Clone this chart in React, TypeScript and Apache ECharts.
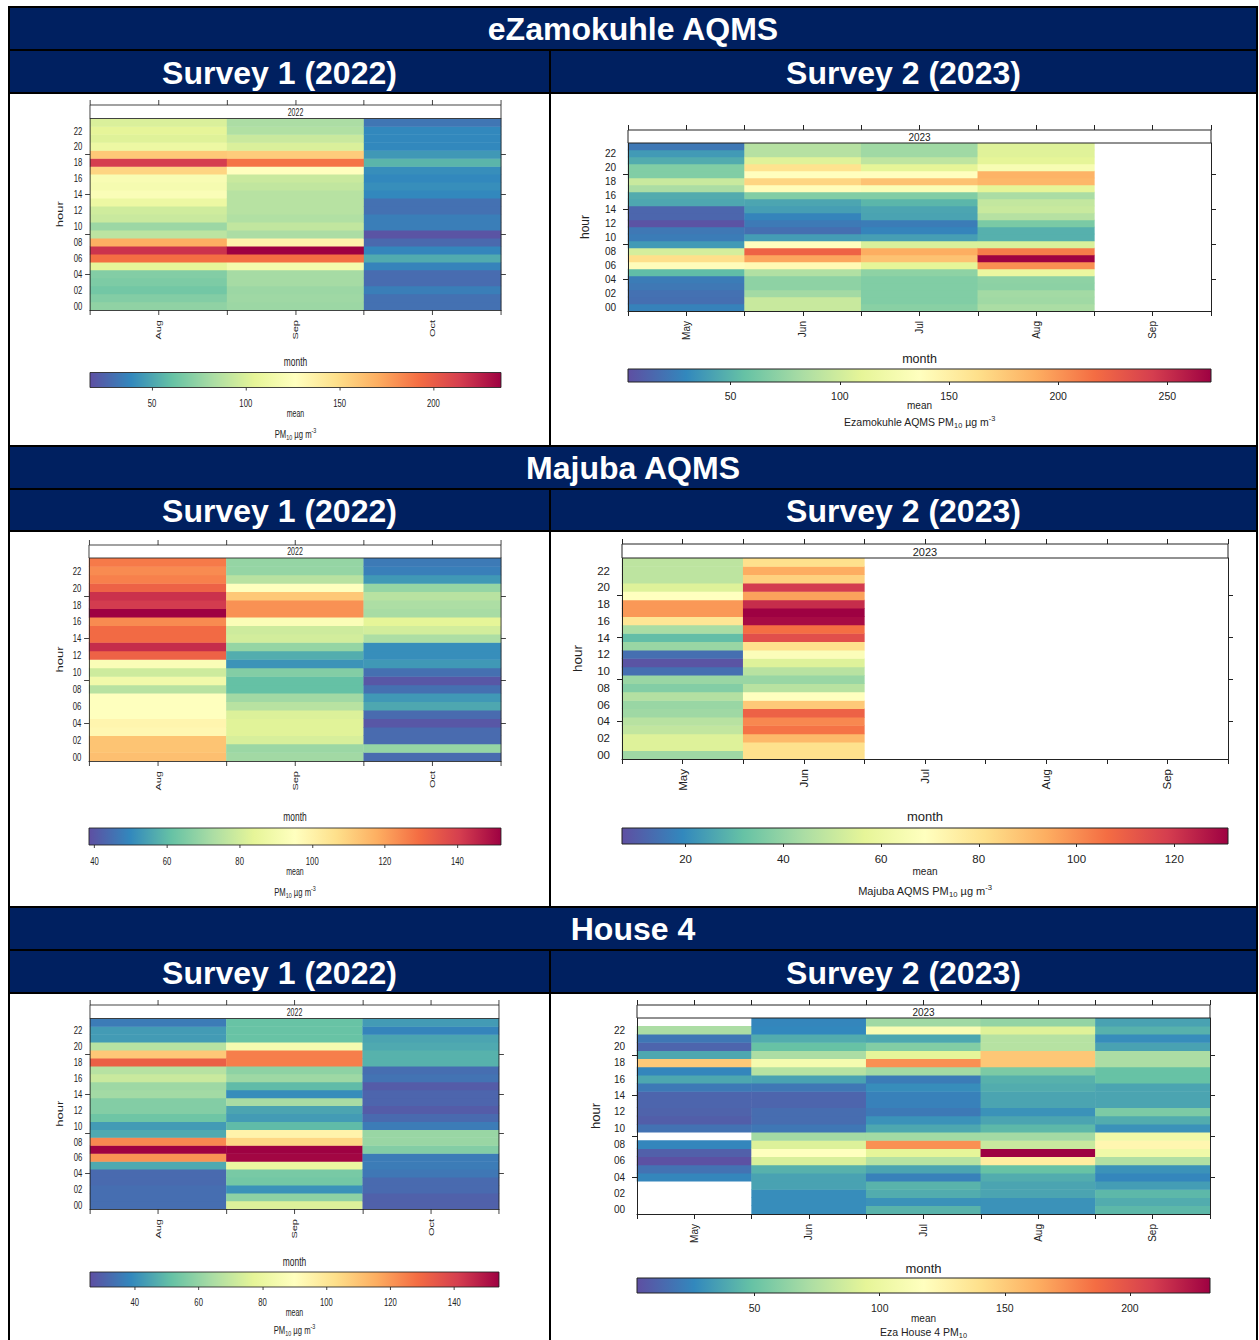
import React, { useEffect, useRef } from "react";
import * as echarts from "echarts";

// Colour ramp (reversed Spectral, low -> high)
const SPECTRAL = ["#5E4FA2", "#3288BD", "#66C2A5", "#ABDDA4", "#E6F598", "#FFFFBF", "#FEE08B", "#FDAE61", "#F46D43", "#D53E4F", "#9E0142"];

const HOURS = ["00", "01", "02", "03", "04", "05", "06", "07", "08", "09", "10", "11", "12", "13", "14", "15", "16", "17", "18", "19", "20", "21", "22", "23"];
const HOUR_TICKS = [4, 9, 14, 19];

// ---- eZamokuhle AQMS, survey 1 (2022): mean PM10 by hour (00..23) ----
const EZ1_MONTHS = ["Aug", "Sep", "Oct"];
const EZ1_AUG = [74, 70, 65, 68, 70, 105, 192, 218, 170, 89, 78, 94, 96, 111, 122, 118, 120, 153, 214, 159, 111, 102, 105, 100];
const EZ1_SEP = [78, 79, 78, 81, 81, 116, 192, 236, 135, 83, 91, 85, 87, 87, 87, 91, 94, 127, 190, 157, 100, 94, 85, 83];
const EZ1_OCT = [30, 30, 35, 28, 28, 37, 52, 38, 27, 19, 35, 35, 30, 30, 39, 41, 39, 41, 56, 45, 39, 39, 39, 32];
const EZ1_RANGE = [17, 236];
const EZ1_TICKS = [50, 100, 150, 200];

// ---- eZamokuhle AQMS, survey 2 (2023) ----
const EZ2_MONTHS = ["May", "Jun", "Jul", "Aug", "Sep"];
const EZ2_MAY = [27, 18, 19, 22, 24, 54, 139, 163, 102, 38, 24, 22, 5, 14, 14, 44, 46, 83, 96, 67, 67, 46, 38, 22];
const EZ2_JUN = [96, 96, 80, 72, 72, 86, 142, 193, 222, 137, 39, 18, 23, 28, 40, 43, 67, 139, 169, 137, 161, 107, 88, 88];
const EZ2_JUL = [70, 67, 67, 67, 67, 72, 110, 179, 190, 104, 40, 28, 24, 42, 43, 51, 67, 131, 179, 137, 110, 92, 79, 79];
const EZ2_AUG = [83, 79, 80, 71, 72, 115, 203, 270, 211, 104, 48, 48, 64, 88, 96, 94, 83, 110, 185, 187, 128, 110, 107, 106];
const EZ2_SEP: (number | null)[] = [];
const EZ2_RANGE = [3, 270];
const EZ2_TICKS = [50, 100, 150, 200, 250];

// ---- Majuba AQMS, survey 1 (2022) ----
const MJ1_MONTHS = ["Aug", "Sep", "Oct"];
const MJ1_AUG = [114, 113, 113, 98, 99, 95, 95, 95, 75, 89, 79, 93, 132, 144, 130, 130, 124, 152, 141, 143, 132, 126, 124, 127];
const MJ1_SEP = [71, 70, 81, 83, 83, 82, 75, 71, 61, 61, 66, 52, 57, 69, 80, 79, 93, 123, 123, 112, 95, 75, 69, 69];
const MJ1_OCT = [44, 69, 44, 44, 40, 44, 56, 53, 45, 40, 45, 53, 51, 51, 73, 80, 84, 72, 73, 75, 69, 53, 48, 47];
const MJ1_RANGE = [38.5, 152];
const MJ1_TICKS = [40, 60, 80, 100, 120, 140];

// ---- Majuba AQMS, survey 2 (2023) ----
const MJ2_MONTHS = ["May", "Jun", "Jul", "Aug", "Sep"];
const MJ2_MAY = [42, 55, 55, 49, 47, 42, 41, 46, 37, 41, 14, 8, 14, 41, 31, 44, 79, 98, 98, 69, 55, 48, 48, 48];
const MJ2_JUN = [81, 81, 91, 105, 101, 109, 87, 69, 47, 41, 47, 55, 67, 81, 114, 106, 129, 131, 122, 96, 119, 85, 94, 81];
const MJ2_JUL: (number | null)[] = [];
const MJ2_AUG: (number | null)[] = [];
const MJ2_SEP: (number | null)[] = [];
const MJ2_RANGE = [7, 131];
const MJ2_TICKS = [20, 40, 60, 80, 100, 120];

// ---- House 4, survey 1 (2022) ----
const H41_MONTHS = ["Aug", "Sep", "Oct"];
const H41_AUG = [33, 33, 33, 32, 32, 46, 121, 154, 123, 46, 43, 53, 57, 57, 63, 62, 71, 67, 132, 109, 67, 43, 43, 36];
const H41_SEP = [75, 59, 41, 54, 55, 80, 153, 154, 105, 95, 50, 43, 45, 64, 40, 50, 62, 59, 125, 125, 85, 52, 52, 52];
const H41_OCT = [30, 30, 32, 32, 35, 36, 36, 57, 61, 61, 36, 32, 29, 31, 31, 29, 34, 33, 48, 48, 46, 45, 38, 43];
const H41_RANGE = [26, 154];
const H41_TICKS = [40, 60, 80, 100, 120, 140];

// ---- House 4, survey 2 (2023) ----
const H42_MONTHS = ["May", "Jun", "Jul", "Aug", "Sep"];
const H42_MAY = [null, null, null, null, 25, 17, 4, 10, 25, null, 17, 9, 11, 12, 12, 20, 38, 25, 151, 38, 12, 19, 72, null];
const H42_JUN = [28, 28, 28, 36, 36, 42, 89, 117, 91, 69, 19, 15, 15, 12, 12, 19, 36, 76, 108, 72, 49, 40, 26, 25];
const H42_JUL = [43, 30, 40, 43, 23, 37, 76, 95, 174, 69, 38, 30, 20, 23, 23, 28, 21, 69, 174, 95, 58, 38, 111, 68];
const H42_AUG = [30, 30, 37, 37, 40, 49, 131, 232, 83, 69, 45, 37, 30, 37, 37, 40, 42, 56, 152, 152, 76, 76, 92, 64];
const H42_SEP = [45, 40, 45, 34, 25, 30, 74, 104, 124, 104, 30, 40, 56, 37, 37, 37, 49, 49, 72, 72, 36, 28, 42, 36];
const H42_RANGE = [3, 232];
const H42_TICKS = [50, 100, 150, 200];

const INK = "#222";
const NAVY = "#002060";
const FONT = '"Liberation Sans", Arial, Helvetica, sans-serif';

// left-hand column is drawn horizontally condensed
const SQ = 0.7;
const LX0 = 10;
const lx = (x: number) => (x - LX0) / SQ;

type Panel = {
  year: string;
  months: string[];
  cols: (number | null)[][];
  range: number[];
  ticks: number[];
  caption: string;
};

type Layout = {
  l: number; r: number; t: number; b: number; strip: number;
  cbT: number; cbB: number; monthY: number; meanY: number; capY: number; hourX: number;
  fs: number; hourFs: number; monthFs: number; cbFs: number; meanFs: number; capFs: number; stripFs: number;
  yMargin: number; yTick: number; xMargin: number; cbMargin: number;
};

const UNIT = "{a|PM}{s|10}{a| µg m}{p|-3}";

const PANEL_EZ1: Panel = { year: "2022", months: EZ1_MONTHS, cols: [EZ1_AUG, EZ1_SEP, EZ1_OCT], range: EZ1_RANGE, ticks: EZ1_TICKS, caption: UNIT };
const PANEL_EZ2: Panel = { year: "2023", months: EZ2_MONTHS, cols: [EZ2_MAY, EZ2_JUN, EZ2_JUL, EZ2_AUG, EZ2_SEP], range: EZ2_RANGE, ticks: EZ2_TICKS, caption: "{a|Ezamokuhle AQMS PM}{s|10}{a| µg m}{p|-3}" };
const PANEL_MJ1: Panel = { year: "2022", months: MJ1_MONTHS, cols: [MJ1_AUG, MJ1_SEP, MJ1_OCT], range: MJ1_RANGE, ticks: MJ1_TICKS, caption: UNIT };
const PANEL_MJ2: Panel = { year: "2023", months: MJ2_MONTHS, cols: [MJ2_MAY, MJ2_JUN, MJ2_JUL, MJ2_AUG, MJ2_SEP], range: MJ2_RANGE, ticks: MJ2_TICKS, caption: "{a|Majuba AQMS PM}{s|10}{a| µg m}{p|-3}" };
const PANEL_H41: Panel = { year: "2022", months: H41_MONTHS, cols: [H41_AUG, H41_SEP, H41_OCT], range: H41_RANGE, ticks: H41_TICKS, caption: UNIT };
const PANEL_H42: Panel = { year: "2023", months: H42_MONTHS, cols: [H42_MAY, H42_JUN, H42_JUL, H42_AUG, H42_SEP], range: H42_RANGE, ticks: H42_TICKS, caption: "{a|Eza House 4 PM}{s|10}" };

const leftFonts = { fs: 11, hourFs: 13, monthFs: 12, cbFs: 11, meanFs: 10, capFs: 11, stripFs: 10, yMargin: 11, yTick: 7, xMargin: 10 };

const LAYOUT_EZ1: Layout = { ...leftFonts, l: lx(90), r: lx(501), t: 118.5, b: 310, strip: 13.5, cbT: 372.5, cbB: 387.5, monthY: 362, meanY: 414, capY: 434, hourX: lx(60), cbMargin: 10 };
const LAYOUT_MJ1: Layout = { ...leftFonts, l: lx(89), r: lx(501), t: 558, b: 761, strip: 13, cbT: 828, cbB: 845, monthY: 817, meanY: 872, capY: 892, hourX: lx(60), cbMargin: 10 };
const LAYOUT_H41: Layout = { ...leftFonts, l: lx(90), r: lx(499), t: 1018.5, b: 1209, strip: 13.5, cbT: 1272, cbB: 1287, monthY: 1262, meanY: 1313, capY: 1330, hourX: lx(60), cbMargin: 9 };

const LAYOUT_EZ2: Layout = { fs: 10, hourFs: 12, monthFs: 12.5, cbFs: 10.5, meanFs: 10, capFs: 10.5, stripFs: 10, yMargin: 12, yTick: 5, xMargin: 10, l: 628, r: 1211, t: 143, b: 311, strip: 13, cbT: 369, cbB: 382, monthY: 359, meanY: 405, capY: 422, hourX: 585, cbMargin: 8 };
const LAYOUT_MJ2: Layout = { fs: 11.5, hourFs: 13.5, monthFs: 13, cbFs: 11.5, meanFs: 10, capFs: 11, stripFs: 11, yMargin: 12, yTick: 5, xMargin: 10, l: 622, r: 1228, t: 558, b: 759, strip: 14, cbT: 828, cbB: 844, monthY: 816, meanY: 871, capY: 891, hourX: 577, cbMargin: 9 };
const LAYOUT_H42: Layout = { fs: 10, hourFs: 13, monthFs: 13, cbFs: 10.5, meanFs: 10, capFs: 10.5, stripFs: 10, yMargin: 12, yTick: 5, xMargin: 10, l: 637, r: 1210, t: 1018, b: 1214, strip: 13, cbT: 1278, cbB: 1293, monthY: 1268, meanY: 1318.5, capY: 1331.5, hourX: 595, cbMargin: 9 };

function textEl(text: string, x: number, y: number, size: number, extra: any = {}) {
  return {
    type: "text",
    z: 20,
    ...extra,
    style: {
      text, x, y,
      font: `${size}px ${FONT}`,
      fill: INK,
      align: "center", verticalAlign: "middle",
      textAlign: "center", textVerticalAlign: "middle",
      ...(extra.style || {}),
    },
  };
}

function emptyOption(): any {
  return {
    animation: false,
    backgroundColor: "transparent",
    textStyle: { fontFamily: FONT },
    grid: [], xAxis: [], yAxis: [], series: [], visualMap: [],
    graphic: { elements: [] as any[] },
  };
}

function addPanel(opt: any, p: Panel, L: Layout) {
  const g = opt.grid.length;
  const n = p.months.length;
  const line = { color: INK, width: 1 };
  opt.grid.push({ left: L.l, top: L.t, width: L.r - L.l, height: L.b - L.t, outerBoundsMode: "none" });
  opt.grid.push({ left: L.l, top: L.cbT, width: L.r - L.l, height: L.cbB - L.cbT, outerBoundsMode: "none" });

  const xa = opt.xAxis.length;
  opt.xAxis.push({ type: "category", gridIndex: g, data: p.months, show: false });
  opt.xAxis.push({
    type: "value", gridIndex: g, position: "bottom", min: 0.5, max: n + 0.5, interval: 0.5, z: 5,
    axisLine: { show: true, onZero: false, lineStyle: line },
    axisTick: { show: true, length: 5, lineStyle: line },
    splitLine: { show: false },
    axisLabel: {
      rotate: 90, margin: L.xMargin, fontSize: L.fs, color: INK, fontFamily: FONT,
      showMinLabel: true, showMaxLabel: true,
      formatter: (v: number) => {
        const k = Math.round(v * 2);
        return k % 2 === 0 ? p.months[k / 2 - 1] || "" : "";
      },
    },
  });
  opt.xAxis.push({
    type: "value", gridIndex: g, position: "top", offset: L.strip, min: 0.5, max: n + 0.5, interval: 0.5, z: 5,
    axisLine: { show: false }, axisTick: { show: true, length: 5, lineStyle: line },
    axisLabel: { show: false }, splitLine: { show: false },
  });
  opt.xAxis.push({
    type: "value", gridIndex: g + 1, min: p.range[0], max: p.range[1],
    axisLine: { show: false },
    axisTick: { show: true, length: 3, customValues: p.ticks, lineStyle: line },
    axisLabel: { customValues: p.ticks, margin: L.cbMargin, fontSize: L.cbFs, color: INK, fontFamily: FONT },
    splitLine: { show: false },
  });

  const ya = opt.yAxis.length;
  const tickAt = (i: number) => HOUR_TICKS.includes(i);
  const yTick = { show: true, length: L.yTick, alignWithLabel: true, interval: tickAt, lineStyle: line };
  opt.yAxis.push({
    type: "category", gridIndex: g, data: HOURS, position: "left", z: 5,
    axisLine: { show: true, onZero: false, lineStyle: line }, axisTick: yTick,
    axisLabel: { interval: 1, margin: L.yMargin, fontSize: L.fs, color: INK, fontFamily: FONT },
    splitLine: { show: false },
  });
  opt.yAxis.push({
    type: "category", gridIndex: g, data: HOURS, position: "right", z: 5,
    axisLine: { show: true, onZero: false, lineStyle: line }, axisTick: yTick,
    axisLabel: { show: false }, splitLine: { show: false },
  });
  opt.yAxis.push({ type: "value", gridIndex: g + 1, min: 0, max: 1, show: false });

  const cells: number[][] = [];
  p.cols.forEach((col, ci) => col.forEach((v, h) => { if (v !== null && v !== undefined) cells.push([ci, h, v]); }));
  const si = opt.series.length;
  opt.series.push({
    type: "heatmap", xAxisIndex: xa, yAxisIndex: ya, data: cells,
    itemStyle: { borderWidth: 0 }, emphasis: { disabled: true }, silent: true,
  });
  opt.visualMap.push({
    type: "continuous", show: false, seriesIndex: si, dimension: 2,
    min: p.range[0], max: p.range[1], inRange: { color: SPECTRAL },
  });
  // colour key
  opt.series.push({
    type: "custom", xAxisIndex: xa + 3, yAxisIndex: ya + 2, silent: true,
    data: [[p.range[0], 0, p.range[1], 1]],
    encode: { x: [0, 2], y: [1, 3] },
    renderItem: (_params: any, api: any) => {
      const a = api.coord([api.value(0), api.value(1)]);
      const b = api.coord([api.value(2), api.value(3)]);
      const stops = SPECTRAL.map((c, i) => ({ offset: i / (SPECTRAL.length - 1), color: c }));
      return {
        type: "rect",
        shape: { x: a[0], y: b[1], width: b[0] - a[0], height: a[1] - b[1] },
        style: { fill: new echarts.graphic.LinearGradient(0, 0, 1, 0, stops), stroke: INK, lineWidth: 1 },
      };
    },
  });

  const cx = (L.l + L.r) / 2;
  const els = opt.graphic.elements;
  els.push({
    type: "rect", z: 15,
    shape: { x: L.l, y: L.t - L.strip, width: L.r - L.l, height: L.strip },
    style: { fill: "#fff", stroke: INK, lineWidth: 1 },
  });
  els.push(textEl(p.year, cx, L.t - L.strip / 2 + 0.5, L.stripFs));
  els.push(textEl("hour", 0, 0, L.hourFs, { x: L.hourX, y: (L.t + L.b) / 2, rotation: Math.PI / 2 }));
  els.push(textEl("month", cx, L.monthY, L.monthFs));
  els.push(textEl("mean", cx, L.meanY, L.meanFs));
  const sub = L.capFs * 0.7;
  els.push(textEl(p.caption, cx, L.capY, L.capFs, {
    style: {
      rich: {
        a: { fontSize: L.capFs, fontFamily: FONT, fill: INK, lineHeight: L.capFs + 4 },
        s: { fontSize: sub, fontFamily: FONT, fill: INK, lineHeight: sub, verticalAlign: "bottom" },
        p: { fontSize: sub, fontFamily: FONT, fill: INK, lineHeight: sub, verticalAlign: "top" },
      },
    },
  }));
}

// table frame: station rows, survey rows and white cells
const BLOCKS = [
  { station: "eZamokuhle AQMS", st: 8, sv: 51, body: 94, end: 445 },
  { station: "Majuba AQMS", st: 447, sv: 490, body: 532, end: 906 },
  { station: "House 4", st: 908, sv: 951, body: 994, end: 1346 },
];

function tableElements(): any[] {
  const els: any[] = [];
  els.push({ type: "rect", z: -5, shape: { x: 8, y: 6, width: 1250, height: 1340 }, style: { fill: "#000" } });
  const head = `bold 32px ${FONT}`;
  BLOCKS.forEach((b) => {
    els.push({ type: "rect", z: -4, shape: { x: 10, y: b.st, width: 1246, height: b.sv - 2 - b.st }, style: { fill: NAVY } });
    els.push({ type: "rect", z: -4, shape: { x: 10, y: b.sv, width: 539, height: b.body - 2 - b.sv }, style: { fill: NAVY } });
    els.push({ type: "rect", z: -4, shape: { x: 551, y: b.sv, width: 705, height: b.body - 2 - b.sv }, style: { fill: NAVY } });
    els.push({ type: "rect", z: -4, shape: { x: 10, y: b.body, width: 539, height: b.end - b.body }, style: { fill: "#fff" } });
    els.push({ type: "rect", z: -4, shape: { x: 551, y: b.body, width: 705, height: b.end - b.body }, style: { fill: "#fff" } });
    const hs = { font: head, fill: "#fff", align: "center", verticalAlign: "middle", textAlign: "center", textVerticalAlign: "middle" };
    els.push({ type: "text", z: -3, style: { ...hs, text: b.station, x: 633, y: (b.st + b.sv - 2) / 2 + 0.5 } });
    els.push({ type: "text", z: -3, style: { ...hs, text: "Survey 1 (2022)", x: 279.5, y: (b.sv + b.body - 2) / 2 + 1 } });
    els.push({ type: "text", z: -3, style: { ...hs, text: "Survey 2 (2023)", x: 903.5, y: (b.sv + b.body - 2) / 2 + 1 } });
  });
  return els;
}

export default function App() {
  const mainRef = useRef<HTMLDivElement>(null);
  const leftRef = useRef<HTMLDivElement>(null);

  useEffect(() => {
    const main = echarts.init(mainRef.current!, undefined, { renderer: "svg" });
    const left = echarts.init(leftRef.current!, undefined, { renderer: "svg" });

    const right = emptyOption();
    right.backgroundColor = "#fff";
    right.graphic.elements.push(...tableElements());
    addPanel(right, PANEL_EZ2, LAYOUT_EZ2);
    addPanel(right, PANEL_MJ2, LAYOUT_MJ2);
    addPanel(right, PANEL_H42, LAYOUT_H42);
    main.setOption(right);

    const lopt = emptyOption();
    addPanel(lopt, PANEL_EZ1, LAYOUT_EZ1);
    addPanel(lopt, PANEL_MJ1, LAYOUT_MJ1);
    addPanel(lopt, PANEL_H41, LAYOUT_H41);
    left.setOption(lopt);

    return () => {
      main.dispose();
      left.dispose();
    };
  }, []);

  return (
    <div style={{ position: "absolute", left: 0, top: 0, width: 1259, height: 1340, overflow: "hidden", background: "#fff" }}>
      <div ref={mainRef} style={{ position: "absolute", left: 0, top: 0, width: 1259, height: 1340 }} />
      <div
        ref={leftRef}
        style={{ position: "absolute", left: LX0, top: 0, width: 539 / SQ, height: 1340, transform: `scaleX(${SQ})`, transformOrigin: "0 0" }}
      />
    </div>
  );
}
